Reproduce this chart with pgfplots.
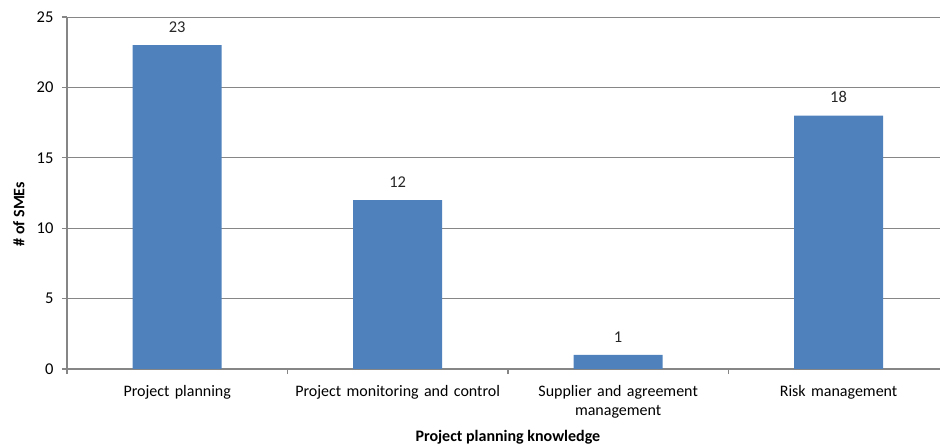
\documentclass[border=0pt]{standalone}
\usepackage{pgfplots}
\pgfplotsset{compat=1.18}
\usepackage{fontspec}
\setmainfont{Carlito}
\definecolor{barblue}{HTML}{4F81BD}
\definecolor{axgray}{HTML}{868686}
\begin{document}
\begin{tikzpicture}[x=1pt,y=1pt]
\begin{axis}[
  at={(67pt,78pt)}, anchor=south west,
  scale only axis, width=873pt, height=352pt,
  xmin=-0.5, xmax=3.46, ymin=0, ymax=25,
  ytick={0,5,10,15,20,25},
  xtick={-0.5,0.5,1.5,2.5},
  xticklabels={},
  extra x ticks={0,1,2,3},
  extra x tick labels={Project planning,Project monitoring and control,{Supplier and agreement\\management},Risk management},
  extra x tick style={major tick length=0pt, xticklabel style={align=center, text width=260pt, font=\fontsize{16}{19}\selectfont}},
  yticklabel style={font=\fontsize{16.5}{18}\selectfont},
  /pgf/number format/assume math mode=true,
  major tick style={axgray, line width=1.2pt},
  tick align=outside, major tick length=5pt,
  axis x line*=bottom, axis y line*=left,
  axis line style={axgray, line width=1.3pt},
  ymajorgrids, grid style={axgray, line width=0.9pt},
  xlabel={\textbf{Project planning knowledge}},
  ylabel={\textbf{\# of SMEs}},
  xlabel style={font=\fontsize{16}{19}\selectfont, at={(rel axis cs:0.505,0)}, anchor=center, yshift=-68pt},
  ylabel style={font=\fontsize{16}{19}\selectfont, at={(axis description cs:-0.055,0.44)}, anchor=center},
  xticklabel shift=13pt,
  yticklabel shift=5pt,
  ybar, bar width=89pt,
  nodes near coords,
  nodes near coords style={font=\fontsize{16.5}{18}\selectfont, black!85, yshift=9pt},
  clip=false,
]
\addplot[fill=barblue, draw=none] coordinates {(0,23) (1,12) (2,1) (3,18)};
\end{axis}
\pgfresetboundingbox
\path (0,0) rectangle (940,447);
\end{tikzpicture}
\end{document}
